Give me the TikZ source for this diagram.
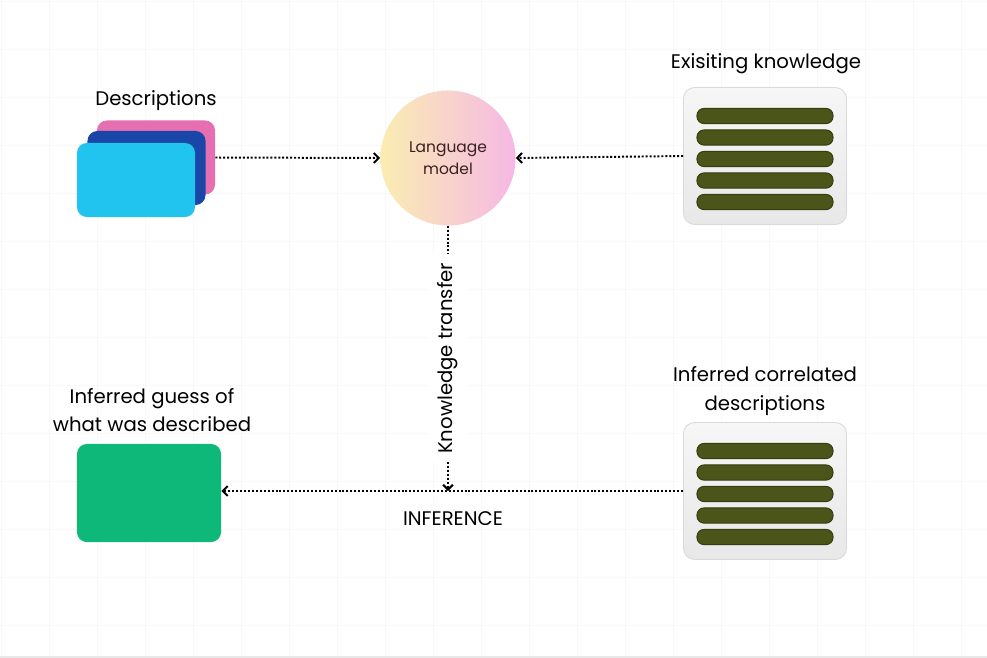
\documentclass[tikz,border=0pt]{standalone}
\usepackage{fontspec}
\setmainfont{Poppins}
\usetikzlibrary{arrows.meta,positioning}

\definecolor{gridgray}{HTML}{F8F8F8}
\definecolor{descpink}{HTML}{E66FB2}
\definecolor{descblue}{HTML}{1A46A8}
\definecolor{desccyan}{HTML}{21C4EF}
\definecolor{guessgreen}{HTML}{0EB878}
\definecolor{lmyellow}{HTML}{FAEDB2}
\definecolor{lmpink}{HTML}{F6B8E4}
\definecolor{lmtext}{HTML}{3A2020}
\definecolor{barolive}{HTML}{4B5419}
\definecolor{barrim}{HTML}{353C0E}
\definecolor{doctop}{HTML}{F6F6F6}
\definecolor{docbottom}{HTML}{E8E8E8}
\definecolor{docedge}{HTML}{D9D9D9}

\tikzset{
  lbl/.style={font=\fontsize{14}{20}\selectfont, align=center, inner sep=0pt},
  card/.style={rectangle, rounded corners=7pt, minimum width=2.95cm, minimum height=1.85cm, inner sep=0pt},
  docbox/.style={rectangle, rounded corners=8pt, draw=docedge, line width=0.6pt,
    top color=doctop, bottom color=docbottom, minimum width=4.075cm, minimum height=3.425cm, inner sep=0pt},
  bar/.style={rectangle, rounded corners=5pt, draw=barrim, line width=0.7pt, fill=barolive,
    minimum width=3.4cm, minimum height=0.38cm, inner sep=0pt},
  flow/.style={line width=1.4pt, dash pattern=on 1.4pt off 1.4pt,
    -{Straight Barb[length=3.5pt,width=7pt,line width=1.4pt]}}
}

\begin{document}
\begin{tikzpicture}[x=0.025cm, y=-0.025cm]

      \fill[white] (0,0) rectangle (987,658);
      \useasboundingbox (0,0) rectangle (987,658);
      \draw[gridgray, line width=0.5pt, shift={(1,1)}, step=1.2cm] (-1,-1) grid (986,656);
      \draw[docedge!60, line width=0.8pt] (0,657) -- (987,657);

      \node[lbl] (desclbl)  at (156,101) {Descriptions};
      \node[lbl] (knowlbl)  at (766,64)  {Exisiting knowledge};
      \node[lbl] (guesslbl) at (152,410) {Inferred guess of\\what was described};
      \node[lbl] (corrlbl)  at (765,391) {Inferred correlated\\descriptions};
      \node[lbl] (inflbl)   at (453,519) {INFERENCE};

      \begin{scope}[every node/.style={card}]
        \node[fill=descpink] (pink) at (156,157.5) {};
        \node[fill=descblue] (blue) at (146.5,168) {};
        \node[fill=desccyan] (cyan) at (136,180) {};
        \node[fill=guessgreen, minimum width=3.6cm, minimum height=2.45cm] (guess) at (149,493) {};
      \end{scope}

      \node[circle, minimum size=3.375cm, inner sep=0pt, left color=lmyellow, right color=lmpink,
        text=lmtext, align=center, font=\fontsize{11}{16}\selectfont] (lm) at (448,158) {Language\\model};

      \node[docbox] (know) at (765,156) {};
      \begin{scope}[every node/.style={bar}]
        \node (k1) at (765,116)   {};
        \node (k2) at (765,137.5) {};
        \node (k3) at (765,159)   {};
        \node (k4) at (765,180.5) {};
        \node (k5) at (765,202)   {};
      \end{scope}

      \node[docbox] (corr) at (765,491) {};
      \begin{scope}[every node/.style={bar}]
        \node (c1) at (765,451)   {};
        \node (c2) at (765,472.5) {};
        \node (c3) at (765,494)   {};
        \node (c4) at (765,515.5) {};
        \node (c5) at (765,537)   {};
      \end{scope}

      \coordinate (meet) at (448,491);

      \begin{scope}[every edge/.style={draw, flow}]
        \path (pink.east) edge (lm.west);
        \path (know.west) edge (lm.east);
        \path (corr.west) edge (guess.east |- meet);
        \path (lm.south) edge node[midway, rotate=90, fill=white, inner sep=6pt,
          font=\fontsize{14}{20}\selectfont] (ktlbl) {Knowledge transfer} (meet);
      \end{scope}

    \end{tikzpicture}
\end{document}
